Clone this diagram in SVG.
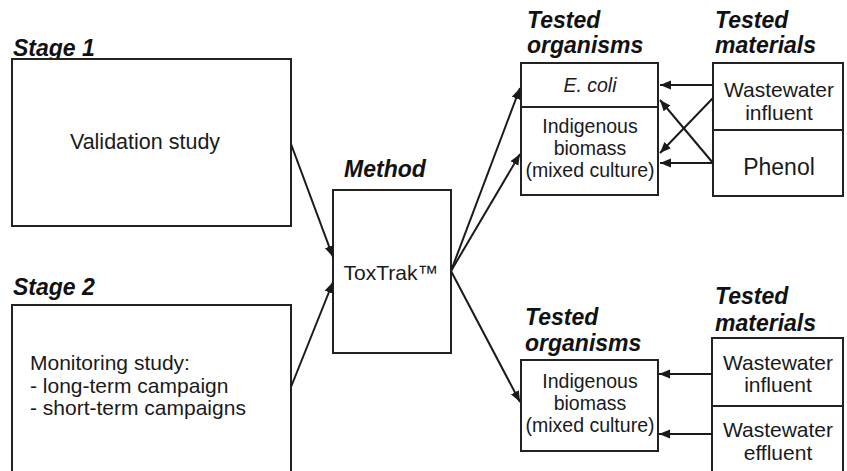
<svg xmlns="http://www.w3.org/2000/svg" width="847" height="471" viewBox="0 0 847 471">
<defs>
<marker id="ah" markerUnits="userSpaceOnUse" markerWidth="12" markerHeight="10" refX="11" refY="4.5" orient="auto">
<path d="M0,0 L11,4.5 L0,9 z" fill="#1a1a1a"/>
</marker>
<style>
.box{fill:#fff;stroke:#222;stroke-width:2}
.div{stroke:#222;stroke-width:2}
.con{stroke:#1a1a1a;stroke-width:2;fill:none;marker-end:url(#ah)}
.hd{font-family:"Liberation Sans",Arial,sans-serif;font-weight:bold;font-style:italic;font-size:23px;fill:#111}
.t{font-family:"Liberation Sans",Arial,sans-serif;font-size:21px;fill:#1a1a1a}
.o{font-family:"Liberation Sans",Arial,sans-serif;font-size:19.5px;fill:#1a1a1a;text-anchor:middle}
.m{font-family:"Liberation Sans",Arial,sans-serif;font-size:21px;fill:#1a1a1a;text-anchor:middle}
</style>
</defs>
<rect width="847" height="471" fill="#fff"/>
<g id="stage1">
<text class="hd" x="13" y="56">Stage 1</text>
<rect class="box" x="12" y="59" width="279" height="167"/>
<text class="t" x="145" y="149" text-anchor="middle" style="font-size:21.5px">Validation study</text>
</g>
<g id="stage2">
<text class="hd" x="13" y="295">Stage 2</text>
<rect class="box" x="12" y="305" width="279" height="180"/>
<text class="t" x="30" y="370">Monitoring study:</text>
<text class="t" x="30" y="392.5">- long-term campaign</text>
<text class="t" x="30" y="415">- short-term campaigns</text>
</g>
<g id="method">
<text class="hd" x="385" y="177" text-anchor="middle">Method</text>
<rect class="box" x="333" y="190" width="118" height="163"/>
<text class="m" x="391" y="280">ToxTrak™</text>
</g>
<g id="organisms-top">
<text class="hd" x="527" y="28">Tested</text>
<text class="hd" x="527" y="53">organisms</text>
<rect class="box" x="521" y="63" width="137" height="132"/>
<line class="div" x1="521" y1="107" x2="658" y2="107"/>
<text class="o" x="590" y="92" font-style="italic">E. coli</text>
<text class="o" x="590" y="133">Indigenous</text>
<text class="o" x="590" y="155">biomass</text>
<text class="o" x="590" y="177">(mixed culture)</text>
</g>
<g id="materials-top">
<text class="hd" x="715" y="28">Tested</text>
<text class="hd" x="715" y="53">materials</text>
<rect class="box" x="713" y="63" width="130" height="133"/>
<line class="div" x1="713" y1="130" x2="843" y2="130"/>
<text class="m" x="779" y="97">Wastewater</text>
<text class="m" x="779" y="120">influent</text>
<text class="m" x="779" y="175" style="font-size:23px">Phenol</text>
</g>
<g id="organisms-bottom">
<text class="hd" x="525" y="325">Tested</text>
<text class="hd" x="525" y="351">organisms</text>
<rect class="box" x="521" y="360" width="137" height="91"/>
<text class="o" x="590" y="388">Indigenous</text>
<text class="o" x="590" y="410">biomass</text>
<text class="o" x="590" y="432">(mixed culture)</text>
</g>
<g id="materials-bottom">
<text class="hd" x="715" y="304">Tested</text>
<text class="hd" x="715" y="331">materials</text>
<rect class="box" x="712" y="338" width="131" height="150"/>
<line class="div" x1="712" y1="406" x2="843" y2="406"/>
<text class="m" x="778" y="370">Wastewater</text>
<text class="m" x="778" y="392">influent</text>
<text class="m" x="778" y="437">Wastewater</text>
<text class="m" x="778" y="460">effluent</text>
</g>
<g id="connectors">
<line class="con" x1="291" y1="144" x2="333" y2="257"/>
<line class="con" x1="291" y1="387" x2="333" y2="282"/>
<line class="con" x1="451" y1="271" x2="520" y2="88"/>
<line class="con" x1="451" y1="271" x2="520" y2="154"/>
<line class="con" x1="451" y1="271" x2="520" y2="402"/>
<line class="con" x1="713" y1="85" x2="660" y2="85"/>
<line class="con" x1="713" y1="98" x2="660" y2="153"/>
<line class="con" x1="713" y1="163" x2="660" y2="163"/>
<line class="con" x1="713" y1="163" x2="660" y2="100"/>
<line class="con" x1="712" y1="374" x2="659" y2="374"/>
<line class="con" x1="712" y1="434" x2="659" y2="434"/>
</g>
</svg>
